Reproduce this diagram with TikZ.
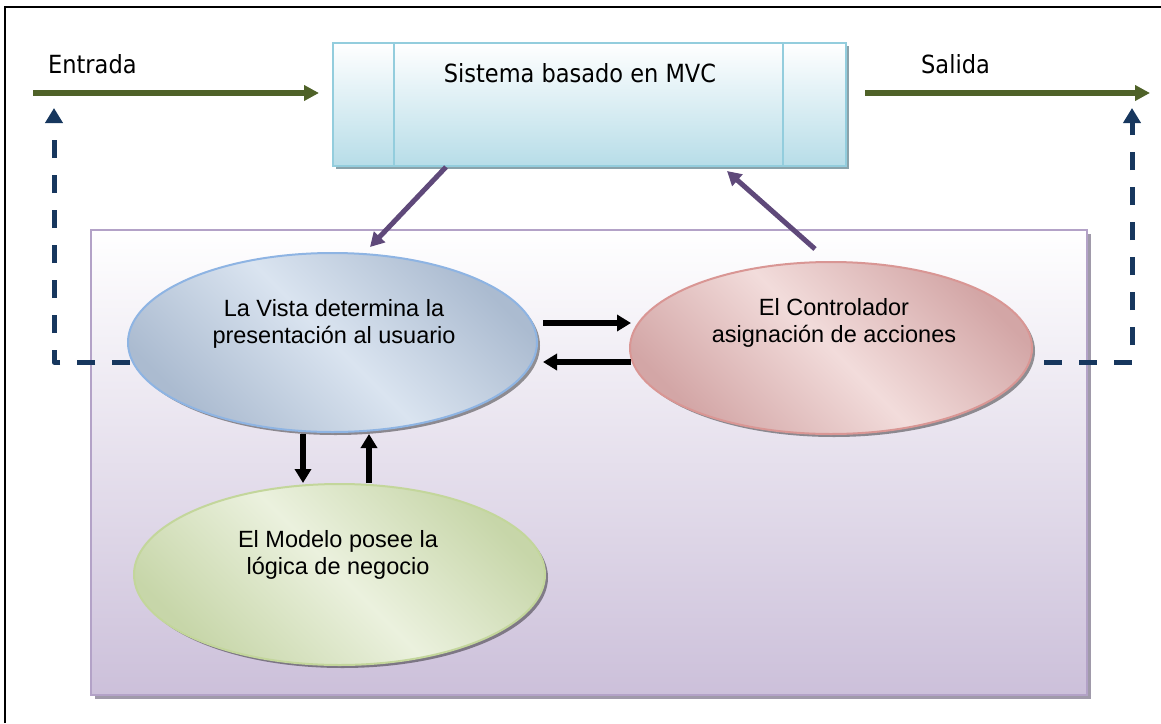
\documentclass[tikz,border=0pt]{standalone}
\usepackage{fontspec}
\setmainfont{Liberation Sans}
\newfontfamily\tahfont{DejaVu Sans Condensed}
\usetikzlibrary{arrows.meta,shapes.geometric,shadows,calc}

\definecolor{inarrow}{HTML}{4F6228}
\definecolor{sysedge}{HTML}{93CDDD}
\definecolor{sysfill}{HTML}{B7DDE8}
\definecolor{sysshadow}{HTML}{8AA3AB}
\definecolor{panelfill}{HTML}{CCC0DA}
\definecolor{paneledge}{HTML}{B3A2C7}
\definecolor{panelshadow}{HTML}{A09AAA}
\definecolor{linkcol}{HTML}{5F497A}
\definecolor{feedcol}{HTML}{17375E}
\definecolor{vistadark}{HTML}{ABBBD0}
\definecolor{vistalight}{HTML}{DAE4F0}
\definecolor{vistaedge}{HTML}{8EB4E3}
\definecolor{ctrldark}{HTML}{D3A6A6}
\definecolor{ctrllight}{HTML}{F2DCDB}
\definecolor{ctrledge}{HTML}{D99694}
\definecolor{modeldark}{HTML}{C7D6A9}
\definecolor{modellight}{HTML}{EBF1DE}
\definecolor{modeledge}{HTML}{C3D69B}

\begin{document}
\begin{tikzpicture}[x=1pt,y=-1pt,
  titletext/.style={font=\tahfont\fontsize{25}{30}\selectfont, inner sep=0pt},
  bubbletext/.style={font=\fontsize{23.5}{27}\selectfont, align=center, inner sep=0pt},
  bubble/.style={ellipse, draw=#1edge, line width=2pt, inner sep=0pt,
    top color=#1dark, bottom color=#1dark, middle color=#1light, shading angle=-45,
    drop shadow={shadow xshift=3pt, shadow yshift=-3pt, opacity=0.4, fill=black}},
  sysbox/.style={rectangle, draw=sysedge, line width=2pt, inner sep=0pt,
    minimum width=513pt, minimum height=123pt, top color=white, bottom color=sysfill,
    drop shadow={shadow xshift=3pt, shadow yshift=-3pt, opacity=1, fill=sysshadow}},
  panelbox/.style={rectangle, draw=paneledge, line width=2pt, inner sep=0pt,
    minimum width=996pt, minimum height=465pt, top color=white, bottom color=panelfill,
    drop shadow={shadow xshift=4pt, shadow yshift=-4pt, opacity=1, fill=panelshadow}},
  flow/.style={inarrow, line width=5.5pt, -{Triangle[length=15pt,width=15pt]}},
  linkarrow/.style={linkcol, line width=5pt, -{Triangle[length=14pt,width=15pt]}},
  msg/.style={black, line width=5.5pt, -{Triangle[length=14pt,width=16pt]}},
  feedback/.style={feedcol, line width=5pt, dash pattern=on 18pt off 17pt,
    line join=round, -{Triangle[length=15pt,width=17pt]}}]

\useasboundingbox (0,0) rectangle (1161,723);

% outer frame (left and top edges)
\draw[line width=2pt] (5,723) -- (5,7) -- (1161,7);

% purple panel holding the three components
\node[panelbox] (panel) at (589,462.5) {};

% system box with its two inner dividers
\node[sysbox] (sys) at (589.5,104.5) {};
\draw[sysedge, line width=2pt] ($(sys.north west)+(62,0)$) -- ($(sys.south west)+(62,0)$);
\draw[sysedge, line width=2pt] ($(sys.north east)+(-64,0)$) -- ($(sys.south east)+(-64,0)$);
\node[titletext, anchor=base] (systitle) at (580,82) {Sistema basado en MVC};

% input / output labels and arrows
\node[titletext, anchor=base west] (entrada) at (48,73) {Entrada};
\node[titletext, anchor=base west] (salida) at (921,73) {Salida};
\coordinate (inStart) at (33,93);
\coordinate (outEnd) at (1150,93);
\draw[flow] (inStart) -- ($(sys.west |- inStart)+(-13,0)$);
\draw[flow] ($(sys.east |- outEnd)+(18,0)$) -- (outEnd);

% feedback path ends
\coordinate (inTip) at (54,108);
\coordinate (outTip) at (1132,108);

% the three components
\node[bubble=vista, minimum width=409pt, minimum height=179pt] (vista) at (332.5,342.5) {};
\node[bubble=ctrl, minimum width=402pt, minimum height=172pt] (ctrl) at (831,348) {};
\node[bubble=model, minimum width=411pt, minimum height=181pt] (model) at (339.5,574.5) {};

\node[bubbletext] (vistatext) at (334,324) {La Vista determina la\\presentación al usuario};
\node[bubbletext] (ctrltext) at (834,323) {El Controlador\\asignación de acciones};
\node[bubbletext] (modeltext) at (338,555) {El Modelo posee la\\lógica de negocio};

% feedback paths
\draw[feedback] ($(vista.west)+(3,19.5)$) -| (inTip);
\draw[feedback, dash phase=22pt] ($(ctrl.east)+(-2,14)$) -| (outTip);

% system <-> components
\draw[linkarrow] ($(sys.south west)+(114,0)$) -- ($(vista.north)+(37.5,-5)$);
\draw[linkarrow] ($(ctrl.north)+(-16,-12)$) -- ($(sys.south west)+(395,4)$);

% view <-> controller
\draw[msg] ($(vista.east)+(5,-19.5)$) -- ($(ctrl.west)+(2,-25)$);
\draw[msg] ($(ctrl.west)+(2,14)$) -- ($(vista.east)+(5,19.5)$);

% view <-> model
\draw[msg] ($(vista.south)+(-29.5,1)$) -- ($(model.north)+(-36.5,0)$);
\draw[msg] ($(model.north)+(29.5,0)$) -- ($(vista.south)+(36.5,1)$);

\end{tikzpicture}
\end{document}
